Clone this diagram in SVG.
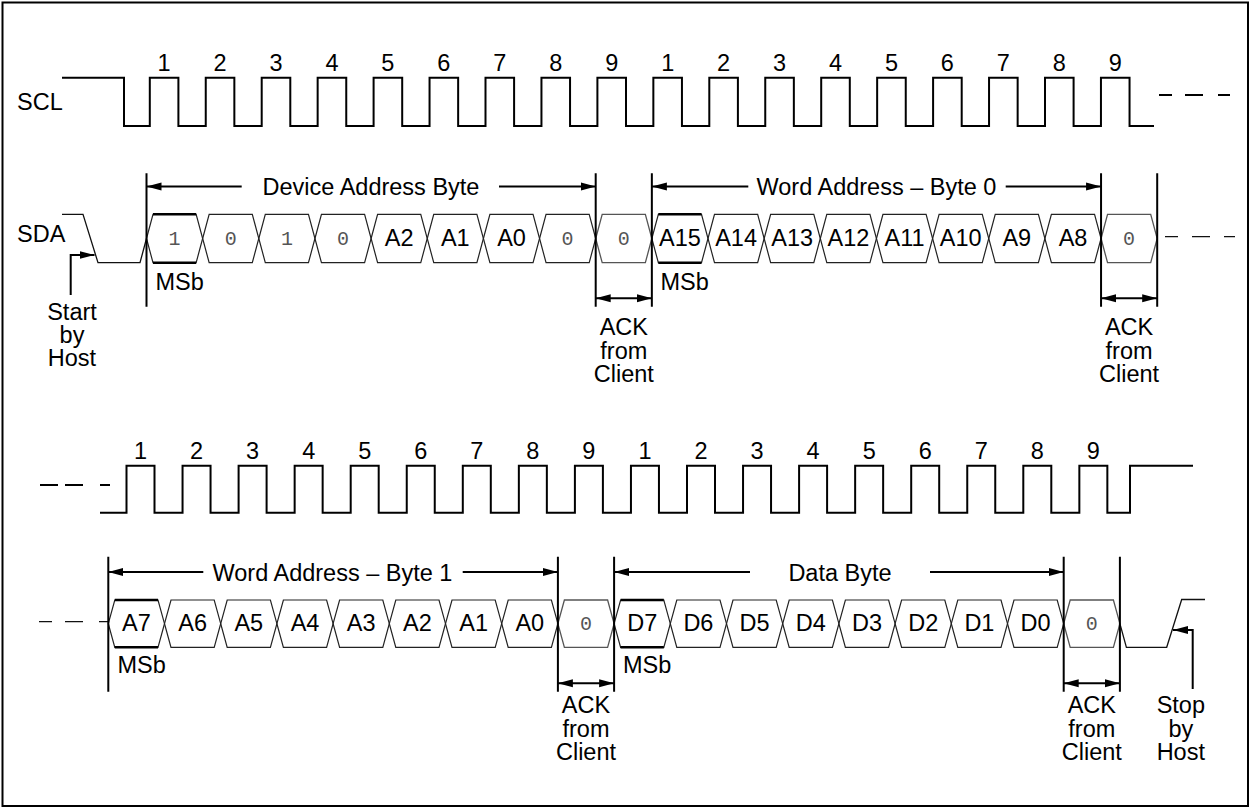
<svg xmlns="http://www.w3.org/2000/svg" width="1250" height="809" viewBox="0 0 1250 809">
<style>
.sig{fill:none;stroke:#000;stroke-width:2}
.sda{fill:none;stroke:#111;stroke-width:1.3}
.cell{fill:none;stroke:#222;stroke-width:1.2}
.ack{fill:none;stroke:#555;stroke-width:1.3}
.bold{fill:none;stroke:#000;stroke-width:2.4}
.mk{stroke:#000;stroke-width:2;fill:none}
.ar{stroke:#000;stroke-width:2;fill:none;marker-end:url(#ah)}
.ar2{stroke:#000;stroke-width:2;fill:none;marker-start:url(#ah);marker-end:url(#ah)}
.arl{stroke:#000;stroke-width:2;fill:none;marker-start:url(#ah)}
.t{font-family:"Liberation Sans",Arial,sans-serif;font-size:23.5px;fill:#000}
.m{font-family:"Liberation Mono","Courier New",monospace;font-size:20px;fill:#555}
.c{text-anchor:middle}
</style>
<defs>
<marker id="ah" markerUnits="userSpaceOnUse" markerWidth="16" markerHeight="10" refX="15" refY="4" orient="auto-start-reverse" viewBox="0 0 16 8">
<path d="M0,0 L15,4 L0,8 Z" fill="#000"/>
</marker>
</defs>
<rect x="2.5" y="2.5" width="1245.5" height="803.5" fill="#fff" stroke="#000" stroke-width="2"/>

<g id="labels">
<text class="t" x="17" y="110">SCL</text>
<text class="t" x="17" y="242">SDA</text>
</g>

<g id="scl-top">
<path class="sig" d="M62,77.7 H124 V126 H149.8 V77.7 H178.4 V126 H205.75 V77.7 H234.35 V126 H261.7 V77.7 H290.3 V126 H317.65 V77.7 H346.25 V126 H373.6 V77.7 H402.2 V126 H429.55 V77.7 H458.15 V126 H485.5 V77.7 H514.1 V126 H541.45 V77.7 H570.05 V126 H597.4 V77.7 H626 V126 H653.35 V77.7 H681.95 V126 H709.3 V77.7 H737.9 V126 H765.25 V77.7 H793.85 V126 H821.2 V77.7 H849.8 V126 H877.15 V77.7 H905.75 V126 H933.1 V77.7 H961.7 V126 H989.05 V77.7 H1017.65 V126 H1045 V77.7 H1073.6 V126 H1100.95 V77.7 H1129.55 V126 H1154"/>
<path class="sig" d="M1159,95 H1172 M1185,95 H1203 M1218,95 H1230"/>
<g class="t c">
<text x="164.1" y="70.5">1</text><text x="220.1" y="70.5">2</text><text x="276" y="70.5">3</text><text x="332" y="70.5">4</text><text x="387.9" y="70.5">5</text><text x="443.9" y="70.5">6</text><text x="499.8" y="70.5">7</text><text x="555.8" y="70.5">8</text><text x="611.7" y="70.5">9</text>
<text x="667.7" y="70.5">1</text><text x="723.6" y="70.5">2</text><text x="779.6" y="70.5">3</text><text x="835.5" y="70.5">4</text><text x="891.5" y="70.5">5</text><text x="947.4" y="70.5">6</text><text x="1003.4" y="70.5">7</text><text x="1059.3" y="70.5">8</text><text x="1115.3" y="70.5">9</text>
</g>
</g>

<g id="sda-top">
<path class="sda" d="M62,214.3 H83 L98,262.7 H140 L146.5,238.5"/>
<path class="sda" d="M1165,236.7 H1178 M1192,236.7 H1210 M1224,236.7 H1235"/>
<g id="t-b0"><path class="cell" d="M146.5,238.5 L153,214.3 H196.15 L202.65,238.5 L196.15,262.7 H153 Z"/><path class="bold" d="M153,214.3 H196.15 M153,262.7 H196.15"/><text class="m c" x="174.6" y="245">1</text></g>
<g id="t-b1"><path class="cell" d="M202.65,238.5 L209.15,214.3 H252.3 L258.8,238.5 L252.3,262.7 H209.15 Z"/><text class="m c" x="230.7" y="245">0</text></g>
<g id="t-b2"><path class="cell" d="M258.8,238.5 L265.3,214.3 H308.45 L314.95,238.5 L308.45,262.7 H265.3 Z"/><text class="m c" x="286.9" y="245">1</text></g>
<g id="t-b3"><path class="cell" d="M314.95,238.5 L321.45,214.3 H364.6 L371.1,238.5 L364.6,262.7 H321.45 Z"/><text class="m c" x="343" y="245">0</text></g>
<g id="t-b4"><path class="cell" d="M371.1,238.5 L377.6,214.3 H420.75 L427.25,238.5 L420.75,262.7 H377.6 Z"/><text class="t c" x="399.2" y="245.5">A2</text></g>
<g id="t-b5"><path class="cell" d="M427.25,238.5 L433.75,214.3 H476.9 L483.4,238.5 L476.9,262.7 H433.75 Z"/><text class="t c" x="455.3" y="245.5">A1</text></g>
<g id="t-b6"><path class="cell" d="M483.4,238.5 L489.9,214.3 H533.05 L539.55,238.5 L533.05,262.7 H489.9 Z"/><text class="t c" x="511.5" y="245.5">A0</text></g>
<g id="t-b7"><path class="cell" d="M539.55,238.5 L546.05,214.3 H589.2 L595.7,238.5 L589.2,262.7 H546.05 Z"/><text class="m c" x="567.6" y="245">0</text></g>
<g id="t-ack1"><path class="ack" d="M595.7,238.5 L602.2,214.3 H645.35 L651.85,238.5 L645.35,262.7 H602.2 Z"/><text class="m c" x="623.8" y="245">0</text></g>
<g id="t-w9"><path class="cell" d="M651.85,238.5 L658.35,214.3 H701.5 L708,238.5 L701.5,262.7 H658.35 Z"/><path class="bold" d="M658.35,214.3 H701.5 M658.35,262.7 H701.5"/><text class="t c" x="679.9" y="245.5">A15</text></g>
<g id="t-w10"><path class="cell" d="M708,238.5 L714.5,214.3 H757.65 L764.15,238.5 L757.65,262.7 H714.5 Z"/><text class="t c" x="736.1" y="245.5">A14</text></g>
<g id="t-w11"><path class="cell" d="M764.15,238.5 L770.65,214.3 H813.8 L820.3,238.5 L813.8,262.7 H770.65 Z"/><text class="t c" x="792.2" y="245.5">A13</text></g>
<g id="t-w12"><path class="cell" d="M820.3,238.5 L826.8,214.3 H869.95 L876.45,238.5 L869.95,262.7 H826.8 Z"/><text class="t c" x="848.4" y="245.5">A12</text></g>
<g id="t-w13"><path class="cell" d="M876.45,238.5 L882.95,214.3 H926.1 L932.6,238.5 L926.1,262.7 H882.95 Z"/><text class="t c" x="904.5" y="245.5">A11</text></g>
<g id="t-w14"><path class="cell" d="M932.6,238.5 L939.1,214.3 H982.25 L988.75,238.5 L982.25,262.7 H939.1 Z"/><text class="t c" x="960.7" y="245.5">A10</text></g>
<g id="t-w15"><path class="cell" d="M988.75,238.5 L995.25,214.3 H1038.4 L1044.9,238.5 L1038.4,262.7 H995.25 Z"/><text class="t c" x="1016.8" y="245.5">A9</text></g>
<g id="t-w16"><path class="cell" d="M1044.9,238.5 L1051.4,214.3 H1094.55 L1101.05,238.5 L1094.55,262.7 H1051.4 Z"/><text class="t c" x="1073" y="245.5">A8</text></g>
<g id="t-ack2"><path class="ack" d="M1101.05,238.5 L1107.55,214.3 H1150.7 L1157.2,238.5 L1150.7,262.7 H1107.55 Z"/><text class="m c" x="1129.1" y="245">0</text></g>
</g>

<g id="annot-top">
<path class="mk" d="M146.5,173.3 V306.7 M595.7,173.3 V306.7 M651.85,173.3 V306.7 M1101.05,173.3 V306.7 M1157.2,173.3 V306.7"/>
<text class="t c" x="371" y="195">Device Address Byte</text>
<text class="t c" x="876.5" y="195">Word Address – Byte 0</text>
<text class="t" x="155.5" y="289.5">MSb</text>
<text class="t" x="660.5" y="289.5">MSb</text>
<g class="t c"><text x="623.8" y="335">ACK</text><text x="623.8" y="358.5">from</text><text x="623.8" y="382">Client</text></g>
<g class="t c"><text x="1129.1" y="335">ACK</text><text x="1129.1" y="358.5">from</text><text x="1129.1" y="382">Client</text></g>
<g class="t c"><text x="72" y="319.5">Start</text><text x="72" y="342.5">by</text><text x="72" y="366">Host</text></g>
</g>

<g id="scl-bottom">
<path class="sig" d="M40,485 H58 M65,485 H83 M100,485 H110"/>
<path class="sig" d="M100,512.7 H126.5 V465.7 H154.5 V512.7 H182.55 V465.7 H210.55 V512.7 H238.6 V465.7 H266.6 V512.7 H294.65 V465.7 H322.65 V512.7 H350.7 V465.7 H378.7 V512.7 H406.75 V465.7 H434.75 V512.7 H462.8 V465.7 H490.8 V512.7 H518.85 V465.7 H546.85 V512.7 H574.9 V465.7 H602.9 V512.7 H630.95 V465.7 H658.95 V512.7 H687 V465.7 H715 V512.7 H743.05 V465.7 H771.05 V512.7 H799.1 V465.7 H827.1 V512.7 H855.15 V465.7 H883.15 V512.7 H911.2 V465.7 H939.2 V512.7 H967.25 V465.7 H995.25 V512.7 H1023.3 V465.7 H1051.3 V512.7 H1079.35 V465.7 H1107.35 V512.7 H1130 V465.7 H1193"/>
<g class="t c">
<text x="140.5" y="458.5">1</text><text x="196.6" y="458.5">2</text><text x="252.6" y="458.5">3</text><text x="308.7" y="458.5">4</text><text x="364.7" y="458.5">5</text><text x="420.8" y="458.5">6</text><text x="476.8" y="458.5">7</text><text x="532.9" y="458.5">8</text><text x="588.9" y="458.5">9</text>
<text x="645" y="458.5">1</text><text x="701" y="458.5">2</text><text x="757.1" y="458.5">3</text><text x="813.1" y="458.5">4</text><text x="869.2" y="458.5">5</text><text x="925.2" y="458.5">6</text><text x="981.3" y="458.5">7</text><text x="1037.3" y="458.5">8</text><text x="1093.4" y="458.5">9</text>
</g>
</g>

<g id="sda-bottom">
<path class="sda" d="M39,621.7 H52 M65,621.7 H83 M99,621.7 H108.3"/>
<path class="sda" d="M1119.9,623.65 L1126.4,647.3 H1166.7 L1181.7,599.5 H1205"/>
<g id="b-w0"><path class="cell" d="M108.3,623.65 L114.8,600 H158 L164.5,623.65 L158,647.3 H114.8 Z"/><path class="bold" d="M114.8,600 H158 M114.8,647.3 H158"/><text class="t c" x="136.4" y="631">A7</text></g>
<g id="b-w1"><path class="cell" d="M164.5,623.65 L171,600 H214.2 L220.7,623.65 L214.2,647.3 H171 Z"/><text class="t c" x="192.6" y="631">A6</text></g>
<g id="b-w2"><path class="cell" d="M220.7,623.65 L227.2,600 H270.4 L276.9,623.65 L270.4,647.3 H227.2 Z"/><text class="t c" x="248.8" y="631">A5</text></g>
<g id="b-w3"><path class="cell" d="M276.9,623.65 L283.4,600 H326.6 L333.1,623.65 L326.6,647.3 H283.4 Z"/><text class="t c" x="305" y="631">A4</text></g>
<g id="b-w4"><path class="cell" d="M333.1,623.65 L339.6,600 H382.8 L389.3,623.65 L382.8,647.3 H339.6 Z"/><text class="t c" x="361.2" y="631">A3</text></g>
<g id="b-w5"><path class="cell" d="M389.3,623.65 L395.8,600 H439 L445.5,623.65 L439,647.3 H395.8 Z"/><text class="t c" x="417.4" y="631">A2</text></g>
<g id="b-w6"><path class="cell" d="M445.5,623.65 L452,600 H495.2 L501.7,623.65 L495.2,647.3 H452 Z"/><text class="t c" x="473.6" y="631">A1</text></g>
<g id="b-w7"><path class="cell" d="M501.7,623.65 L508.2,600 H551.4 L557.9,623.65 L551.4,647.3 H508.2 Z"/><text class="t c" x="529.8" y="631">A0</text></g>
<g id="b-ack1"><path class="ack" d="M557.9,623.65 L564.4,600 H607.6 L614.1,623.65 L607.6,647.3 H564.4 Z"/><text class="m c" x="586" y="630">0</text></g>
<g id="b-d7"><path class="cell" d="M614.1,623.65 L620.6,600 H663.8 L670.3,623.65 L663.8,647.3 H620.6 Z"/><path class="bold" d="M620.6,600 H663.8 M620.6,647.3 H663.8"/><text class="t c" x="642.2" y="631">D7</text></g>
<g id="b-d6"><path class="cell" d="M670.3,623.65 L676.8,600 H720 L726.5,623.65 L720,647.3 H676.8 Z"/><text class="t c" x="698.4" y="631">D6</text></g>
<g id="b-d5"><path class="cell" d="M726.5,623.65 L733,600 H776.2 L782.7,623.65 L776.2,647.3 H733 Z"/><text class="t c" x="754.6" y="631">D5</text></g>
<g id="b-d4"><path class="cell" d="M782.7,623.65 L789.2,600 H832.4 L838.9,623.65 L832.4,647.3 H789.2 Z"/><text class="t c" x="810.8" y="631">D4</text></g>
<g id="b-d3"><path class="cell" d="M838.9,623.65 L845.4,600 H888.6 L895.1,623.65 L888.6,647.3 H845.4 Z"/><text class="t c" x="867" y="631">D3</text></g>
<g id="b-d2"><path class="cell" d="M895.1,623.65 L901.6,600 H944.8 L951.3,623.65 L944.8,647.3 H901.6 Z"/><text class="t c" x="923.2" y="631">D2</text></g>
<g id="b-d1"><path class="cell" d="M951.3,623.65 L957.8,600 H1001 L1007.5,623.65 L1001,647.3 H957.8 Z"/><text class="t c" x="979.4" y="631">D1</text></g>
<g id="b-d0"><path class="cell" d="M1007.5,623.65 L1014,600 H1057.2 L1063.7,623.65 L1057.2,647.3 H1014 Z"/><text class="t c" x="1035.6" y="631">D0</text></g>
<g id="b-ack2"><path class="ack" d="M1063.7,623.65 L1070.2,600 H1113.4 L1119.9,623.65 L1113.4,647.3 H1070.2 Z"/><text class="m c" x="1091.8" y="630">0</text></g>
</g>

<g id="annot-bottom">
<path class="mk" d="M108.3,556.7 V691.7 M557.9,556.7 V691.7 M614.1,556.7 V691.7 M1063.7,556.7 V691.7 M1119.9,556.7 V691.7"/>
<text class="t c" x="332.5" y="580.5">Word Address – Byte 1</text>
<text class="t c" x="840" y="580.5">Data Byte</text>
<text class="t" x="117.5" y="673">MSb</text>
<text class="t" x="623" y="673">MSb</text>
<g class="t c"><text x="586" y="713">ACK</text><text x="586" y="736.5">from</text><text x="586" y="760">Client</text></g>
<g class="t c"><text x="1091.8" y="713">ACK</text><text x="1091.8" y="736.5">from</text><text x="1091.8" y="760">Client</text></g>
<g class="t c"><text x="1180.8" y="713">Stop</text><text x="1180.8" y="736.5">by</text><text x="1180.8" y="760">Host</text></g>
</g>

<g id="connectors">
<path class="arl" d="M146.5,186.5 H241.7"/>
<path class="ar" d="M499,186.5 H595.7"/>
<path class="arl" d="M651.85,186.5 H748.3"/>
<path class="ar" d="M1005.7,186.5 H1101.05"/>
<path class="ar2" d="M595.7,298.3 H651.85"/>
<path class="ar2" d="M1101.05,298.3 H1157.2"/>
<path class="ar" d="M70.7,295 V255 H94.5"/>
<path class="arl" d="M108.3,572 H203.3"/>
<path class="ar" d="M462.7,572 H557.9"/>
<path class="arl" d="M614.1,572 H750"/>
<path class="ar" d="M930,572 H1063.7"/>
<path class="ar2" d="M557.9,683.3 H614.1"/>
<path class="ar2" d="M1063.7,683.3 H1119.9"/>
<path class="ar" d="M1192.7,689 V630 H1173"/>
</g>
</svg>
